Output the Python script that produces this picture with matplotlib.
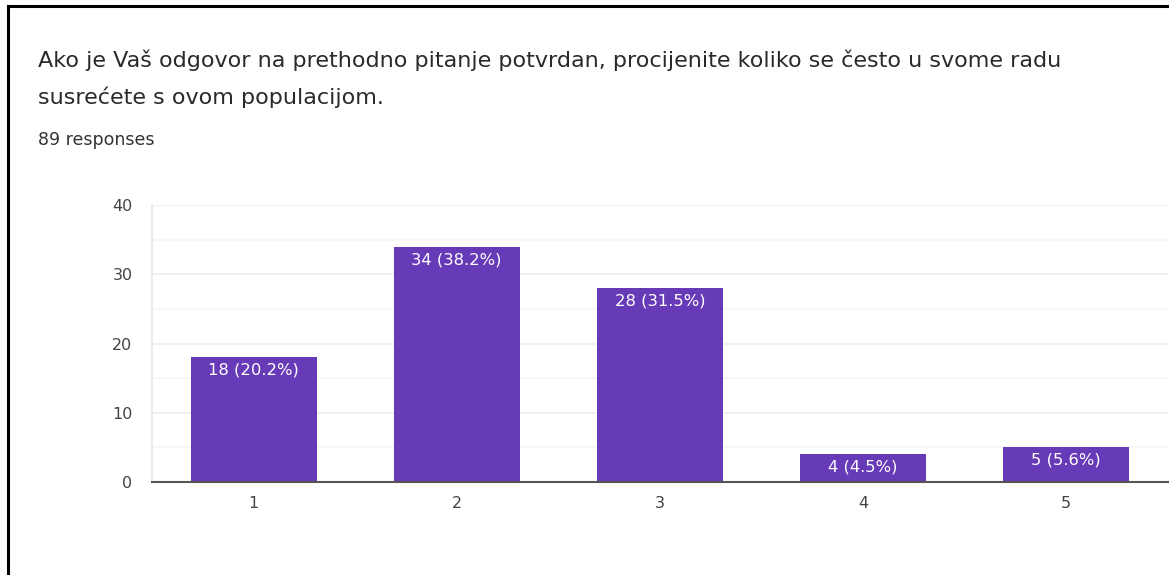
import numpy as np
import matplotlib.pyplot as plt
from matplotlib.lines import Line2D

# podaci s grafa
categories = ['1', '2', '3', '4', '5']
counts = [18, 34, 28, 4, 5]
total = 89
title_lines = ['Ako je Vaš odgovor na prethodno pitanje potvrdan, procijenite koliko se često u svome radu',
               'susrećete s ovom populacijom.']
subtitle = '89 responses'

plt.rcParams['font.family'] = ['DejaVu Sans']

fig = plt.figure(figsize=(11.69, 5.75), dpi=100)
ax = fig.add_axes([0.130, 0.1617, 0.869, 0.4817])

x = np.arange(len(categories))
bars = ax.bar(x, counts, width=0.62, color='#673ab7', zorder=3)

for xi, c in zip(x, counts):
    ax.annotate('%d (%.1f%%)' % (c, c / total * 100), (xi, c), xytext=(0, -4),
                textcoords='offset points', ha='center', va='top',
                color='white', fontsize=11.8, zorder=4)

ax.set_xlim(-0.5, 4.5)
ax.set_ylim(0, 40)
ax.set_xticks(x)
ax.set_xticklabels(categories)
ax.set_yticks([0, 10, 20, 30, 40])
ax.set_yticks([5, 15, 25, 35], minor=True)
ax.tick_params(axis='both', length=0, labelsize=11.5, labelcolor='#444444')
ax.tick_params(axis='y', pad=14)
ax.tick_params(axis='x', pad=10)
ax.tick_params(which='minor', length=0)
ax.grid(axis='y', which='major', color='#ededed', lw=1.2, zorder=0)
ax.grid(axis='y', which='minor', color='#f6f6f6', lw=1.2, zorder=0)
for s in ['top', 'right']:
    ax.spines[s].set_visible(False)
ax.spines['left'].set_color('#e6e6e6')
ax.spines['left'].set_linewidth(1.2)
ax.spines['bottom'].set_color('#555555')
ax.spines['bottom'].set_linewidth(1.5)
ax.spines['bottom'].set_zorder(5)

fig.text(38 / 1169, 1 - 60 / 575, title_lines[0], fontsize=16, color='#2a2a2a', va='center')
fig.text(38 / 1169, 1 - 97 / 575, title_lines[1], fontsize=16, color='#2a2a2a', va='center')
fig.text(38 / 1169, 1 - 140 / 575, subtitle, fontsize=12.5, color='#333333', va='center')

# okvir (gornja i lijeva crta)
fig.add_artist(Line2D([8 / 1169, 1], [1 - 6 / 575, 1 - 6 / 575], color='black', lw=2.2))
fig.add_artist(Line2D([8 / 1169, 8 / 1169], [0, 1 - 6 / 575], color='black', lw=2.2))

fig.savefig('out.png', dpi=100)
